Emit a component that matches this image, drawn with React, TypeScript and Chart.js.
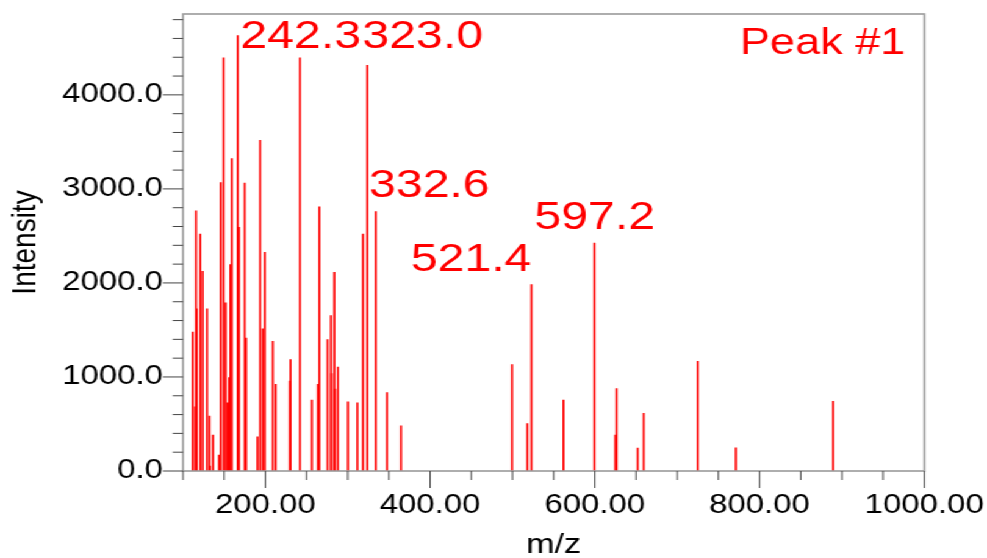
import React, { useEffect, useRef } from "react";
import { Chart, registerables } from "chart.js";

Chart.register(...registerables);

// ---- data ----
const mzValues = [
  111.7, 115.0, 115.8, 116.6, 121.0, 123.9, 129.2, 132.0, 132.8, 136.4,
  143.7, 145.7, 149.4, 151.8, 153.9, 156.0, 157.5, 159.2, 166.4, 168.0,
  174.9, 176.6, 190.4, 193.7, 196.9, 199.3, 209.0, 212.3, 229.7, 230.5,
  241.9, 256.5, 263.8, 265.5, 275.5, 279.6, 280.1, 283.7, 284.5, 288.1,
  300.3, 311.7, 318.5, 323.8, 334.0, 347.7, 364.7, 499.5, 518.1, 523.0,
  561.9, 599.6, 624.8, 626.4, 652.0, 659.3, 724.9, 771.2, 889.3,
];
const intensities = [
  1477, 682, 2768, 1725, 2520, 2124, 1725, 583, 53, 382,
  170, 3068, 4394, 1789, 725, 993, 2195, 3323, 4631, 2591,
  3062, 1414, 364, 3517, 1513, 2326, 1379, 923, 955, 1184,
  4394, 753, 923, 2810, 1397, 1654, 1036, 2113, 870, 1106,
  735, 725, 2520, 4313, 2760, 835, 480, 1131, 505, 1983,
  753, 2425, 382, 877, 244, 612, 1166, 247, 742,
];
const xTickValues = [200, 400, 600, 800, 1000];
const yTickValues = [0, 1000, 2000, 3000, 4000];
const peakLabels = ["242.3", "323.0", "332.6", "597.2", "521.4", "Peak #1"];
const peakLabelMz = [169.7, 317.8, 325.8, 526.6, 376.6, 776];
const peakLabelIntensity = [4500, 4500, 2916, 2574, 2131, 4436];
const peakLabelSizes = [39.5, 39.5, 39.5, 39.5, 39.5, 37];

const X_MIN = 100;
const X_MAX = 1000;
const Y_MAX = 4860;

// ---- geometry ----
const PAGE_W = 987;
const PAGE_H = 558;
const STRETCH = 1.22;
const W = Math.round(PAGE_W / STRETCH);
const FONT = '"Liberation Sans", Arial, Helvetica, sans-serif';

const decorPlugin = {
  id: "decor",
  afterDatasetsDraw(chart: any) {
    const { ctx, chartArea } = chart;
    const xs = chart.scales.x;
    const ys = chart.scales.y;
    ctx.save();
    // frame
    ctx.strokeStyle = "#9a9a9a";
    ctx.lineWidth = 1.6;
    ctx.strokeRect(chartArea.left, chartArea.top, chartArea.right - chartArea.left, chartArea.bottom - chartArea.top);
    // ticks
    ctx.strokeStyle = "#444";
    ctx.lineWidth = 1;
    for (let v = X_MIN; v <= X_MAX; v += 50) {
      const px = xs.getPixelForValue(v);
      const len = v % 200 === 0 ? 17 : 9;
      ctx.beginPath();
      ctx.moveTo(px, chartArea.bottom);
      ctx.lineTo(px, chartArea.bottom + len);
      ctx.stroke();
    }
    for (let v = 0; v <= Y_MAX; v += 200) {
      const py = ys.getPixelForValue(v);
      const len = v % 1000 === 0 ? 16.4 : 8.4;
      ctx.beginPath();
      ctx.moveTo(chartArea.left - len, py);
      ctx.lineTo(chartArea.left, py);
      ctx.stroke();
    }
    // peak labels
    ctx.fillStyle = "#ff0000";
    ctx.textAlign = "left";
    ctx.textBaseline = "alphabetic";
    peakLabels.forEach((t, i) => {
      ctx.font = `${peakLabelSizes[i]}px ${FONT}`;
      ctx.fillText(t, xs.getPixelForValue(peakLabelMz[i]), ys.getPixelForValue(peakLabelIntensity[i]));
    });
    ctx.restore();
  },
};

export default function App() {
  const ref = useRef<HTMLCanvasElement | null>(null);
  useEffect(() => {
    if (!ref.current) return;
    const chart = new Chart(ref.current, {
      type: "bar",
      data: {
        datasets: [
          {
            data: mzValues.map((m, i) => ({ x: m, y: intensities[i] })),
            backgroundColor: "#ff0000",
            borderWidth: 0,
            barThickness: 1,
          },
        ],
      },
      options: {
        responsive: false,
        animation: false,
        devicePixelRatio: 1,
        layout: { padding: { top: 14, right: 51.4, left: 0, bottom: 0 } },
        plugins: { legend: { display: false }, tooltip: { enabled: false } },
        scales: {
          x: {
            type: "linear",
            min: X_MIN,
            max: X_MAX,
            offset: false,
            grid: { display: false, drawTicks: false },
            border: { display: false },
            afterBuildTicks: (s: any) => {
              s.ticks = xTickValues.map((v) => ({ value: v }));
            },
            afterFit: (s: any) => {
              s.height = 87;
              s.paddingLeft = 0;
              s.paddingRight = 0;
              s.paddingTop = 0;
              s.paddingBottom = 0;
            },
            ticks: {
              autoSkip: false,
              maxRotation: 0,
              padding: 18,
              color: "#000",
              font: { family: FONT, size: 27 },
              callback: (v: any) => Number(v).toFixed(2),
            },
            title: {
              display: true,
              text: "m/z",
              color: "#000",
              font: { family: FONT, size: 28, lineHeight: 0.9 },
              padding: { top: 0, bottom: 0 },
            },
          },
          y: {
            type: "linear",
            min: 0,
            max: Y_MAX,
            grid: { display: false, drawTicks: false },
            border: { display: false },
            afterBuildTicks: (s: any) => {
              s.ticks = yTickValues.map((v) => ({ value: v }));
            },
            afterFit: (s: any) => {
              s.width = 150;
              s.paddingLeft = 0;
              s.paddingRight = 0;
              s.paddingTop = 0;
              s.paddingBottom = 0;
            },
            ticks: {
              autoSkip: false,
              padding: 16.4,
              color: "#000",
              font: { family: FONT, size: 27 },
              callback: (v: any) => Number(v).toFixed(1),
            },
            title: {
              display: true,
              text: "Intensity",
              color: "#000",
              font: { family: FONT, size: 28, lineHeight: 1.2 },
              padding: { top: 4, bottom: 0 },
            },
          },
        },
      },
      plugins: [decorPlugin],
    } as any);
    return () => chart.destroy();
  }, []);

  return (
    <div
      style={{
        position: "fixed",
        left: 0,
        top: 0,
        width: W,
        height: PAGE_H,
        transform: `scaleX(${PAGE_W / W})`,
        transformOrigin: "0 0",
        background: "#fff",
      }}
    >
      <canvas ref={ref} width={W} height={PAGE_H} style={{ display: "block", width: W, height: PAGE_H }} />
    </div>
  );
}
